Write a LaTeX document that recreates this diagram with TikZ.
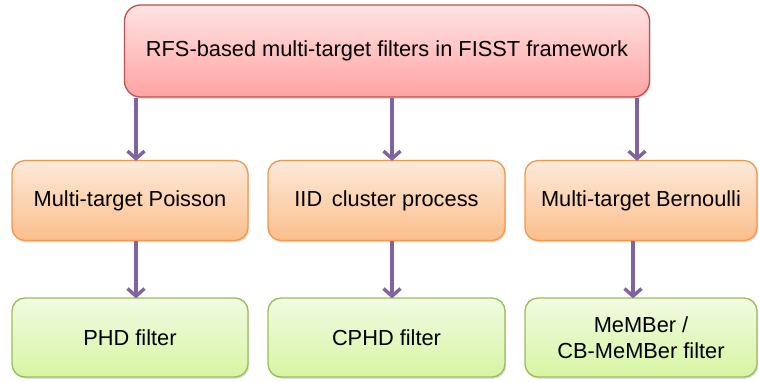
\documentclass[tikz,border=0pt]{standalone}
\usepackage{fontspec}
\setmainfont{Liberation Sans}
\usetikzlibrary{arrows.meta,shadows}
\definecolor{redB}{HTML}{C0504D}
\definecolor{redT}{HTML}{FFE3E3}
\definecolor{redL}{HTML}{FFA3A3}
\definecolor{orB}{HTML}{F79646}
\definecolor{orT}{HTML}{FDEADA}
\definecolor{orL}{HTML}{FBBE8C}
\definecolor{grB}{HTML}{9BBB59}
\definecolor{grT}{HTML}{F2FBE2}
\definecolor{grL}{HTML}{D6F5A2}
\definecolor{arr}{HTML}{8064A2}
\tikzset{
  box/.style={rounded corners=13pt, line width=1.3pt, align=center, inner sep=0pt,
    font=\fontsize{21.8}{26}\selectfont,
    drop shadow={opacity=0.25, shadow xshift=1.2pt, shadow yshift=-1.8pt}},
  topbox/.style={box, draw=redB, top color=redT, bottom color=redL, rounded corners=16pt},
  midbox/.style={box, draw=orB, top color=orT, bottom color=orL},
  botbox/.style={box, draw=grB, top color=grT, bottom color=grL},
  conn/.style={draw=arr, line width=3.4pt, -{Straight Barb[length=7.5pt,width=17pt,line width=3.4pt]}, shorten >=-1pt}
}
\begin{document}
\begin{tikzpicture}[x=1pt,y=-1pt]
\useasboundingbox (0,0) rectangle (759,381);
\node[topbox, minimum width=525pt, minimum height=92pt] (top) at (387,51) {RFS-based multi-target filters in FISST framework};
\node[midbox, minimum width=236pt, minimum height=80pt] (m1) at (130,200.5) {Multi-target Poisson};
\node[midbox, minimum width=237pt, minimum height=80pt] (m2) at (386.5,200.5) {IID\, cluster process};
\node[midbox, minimum width=232pt, minimum height=80pt] (m3) at (641,200.5) {Multi-target Bernoulli};
\node[botbox, minimum width=236pt, minimum height=79pt] (b1) at (130,337.5) {PHD filter};
\node[botbox, minimum width=237pt, minimum height=79pt] (b2) at (386.5,337.5) {CPHD filter};
\node[botbox, minimum width=232pt, minimum height=79pt] (b3) at (641,337.5) {MeMBer /\\CB-MeMBer filter};
\draw[conn] (top.south -| 136,0) -- (m1.north -| 136,0);
\draw[conn] (top.south -| 392,0) -- (m2.north -| 392,0);
\draw[conn] (top.south -| 637,0) -- (m3.north -| 637,0);
\draw[conn] (m1.south -| 136,0) -- (b1.north -| 136,0);
\draw[conn] (m2.south -| 392,0) -- (b2.north -| 392,0);
\draw[conn] (m3.south -| 633,0) -- (b3.north -| 633,0);
\end{tikzpicture}
\end{document}
